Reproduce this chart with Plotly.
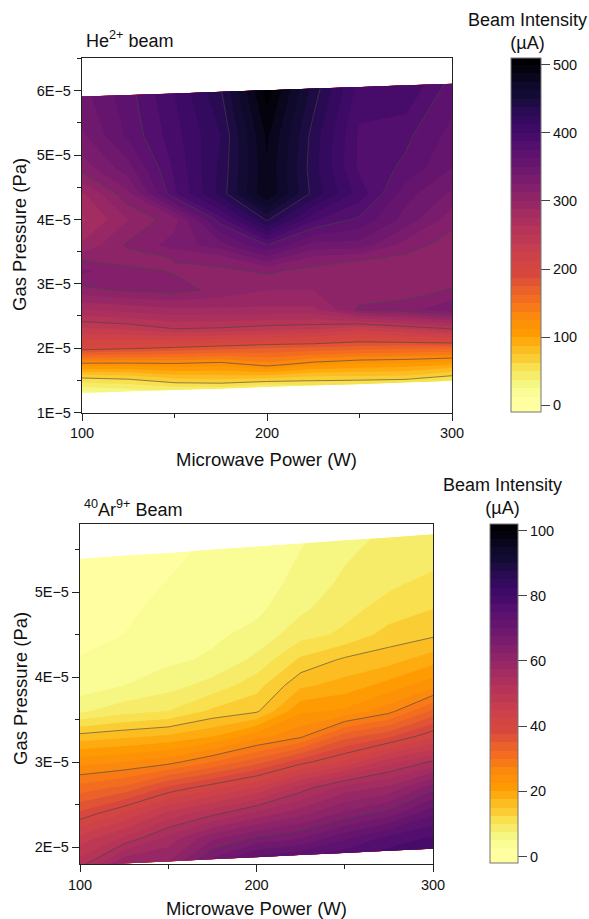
import numpy as np
import plotly.graph_objects as go

POWER = [100, 125, 150, 175, 200, 225, 250, 275, 300]

# He2+ : gas pressure (units of 1E-5 Pa) per power column, bottom to top
HE_PRESSURE = [
    [1.30, 1.55, 1.75, 2.0, 2.3, 2.6, 2.9, 3.2, 3.4, 3.6, 4.0, 4.4, 4.8, 5.3, 5.91],
    [1.325, 1.55, 1.75, 2.0, 2.3, 2.6, 2.9, 3.2, 3.4, 3.6, 4.0, 4.4, 4.8, 5.3, 5.935],
    [1.35, 1.55, 1.75, 2.0, 2.3, 2.6, 2.9, 3.2, 3.4, 3.6, 4.0, 4.4, 4.8, 5.3, 5.96],
    [1.37, 1.55, 1.75, 2.0, 2.3, 2.6, 2.9, 3.2, 3.4, 3.6, 4.0, 4.4, 4.8, 5.3, 5.985],
    [1.395, 1.55, 1.75, 2.0, 2.3, 2.6, 2.9, 3.2, 3.4, 3.6, 4.0, 4.4, 4.8, 5.3, 6.01],
    [1.42, 1.55, 1.75, 2.0, 2.3, 2.6, 2.9, 3.2, 3.4, 3.6, 4.0, 4.4, 4.8, 5.3, 6.035],
    [1.44, 1.55, 1.75, 2.0, 2.3, 2.6, 2.9, 3.2, 3.4, 3.6, 4.0, 4.4, 4.8, 5.3, 6.06],
    [1.465, 1.55, 1.75, 2.0, 2.3, 2.6, 2.9, 3.2, 3.4, 3.6, 4.0, 4.4, 4.8, 5.3, 6.085],
    [1.49, 1.55, 1.75, 2.0, 2.3, 2.6, 2.9, 3.2, 3.4, 3.6, 4.0, 4.4, 4.8, 5.3, 6.11],
]
HE_INTENSITY = [
    [20, 65, 120, 195, 235, 275, 308, 328, 309, 290, 272, 285, 318, 335, 345],
    [30, 68, 120, 190, 240, 280, 314, 316, 306, 315, 300, 322, 345, 365, 370],
    [40, 80, 122, 185, 250, 285, 317, 311.5, 313, 330, 320, 385, 390, 395, 400],
    [45, 82, 118, 180, 248, 285, 309, 309, 320, 345, 382, 430, 428, 425, 436],
    [40, 80, 132, 175, 243, 285, 300, 315, 345, 375, 440, 487, 486, 490, 506],
    [50, 72, 118, 172, 240, 285, 300, 307, 322, 345, 390, 433, 430, 432, 445],
    [50, 72, 110, 168, 228, 315, 305, 302, 315, 345, 372, 395, 385, 385, 395],
    [52, 70, 108, 165, 240, 320, 305, 302, 309, 320, 345, 355, 372, 378, 400],
    [48, 58, 100, 165, 250, 335, 314, 300, 302, 305, 318, 335, 350, 358, 370],
]

# 40Ar9+ : gas pressure (units of 1E-5 Pa) per power column, bottom to top
AR_PRESSURE = [
    [1.78, 2.1, 2.4, 2.7, 3.0, 3.3, 3.6, 3.9, 4.2, 4.5, 4.8, 5.1, 5.39],
    [1.805, 2.1, 2.4, 2.7, 3.0, 3.3, 3.6, 3.9, 4.2, 4.5, 4.8, 5.1, 5.43],
    [1.83, 2.1, 2.4, 2.7, 3.0, 3.3, 3.6, 3.9, 4.2, 4.5, 4.8, 5.1, 5.46],
    [1.855, 2.1, 2.4, 2.7, 3.0, 3.3, 3.6, 3.9, 4.2, 4.5, 4.8, 5.1, 5.50],
    [1.88, 2.1, 2.4, 2.7, 3.0, 3.3, 3.6, 3.9, 4.2, 4.5, 4.8, 5.1, 5.535],
    [1.905, 2.1, 2.4, 2.7, 3.0, 3.3, 3.6, 3.9, 4.2, 4.5, 4.8, 5.1, 5.57],
    [1.93, 2.1, 2.4, 2.7, 3.0, 3.3, 3.6, 3.9, 4.2, 4.5, 4.8, 5.1, 5.61],
    [1.955, 2.1, 2.4, 2.7, 3.0, 3.3, 3.6, 3.9, 4.2, 4.5, 4.8, 5.1, 5.64],
    [1.98, 2.1, 2.4, 2.7, 3.0, 3.3, 3.6, 3.9, 4.2, 4.5, 4.8, 5.1, 5.68],
]
AR_INTENSITY = [
    [52, 46, 38, 31, 24, 16, 7, 3.6, 2.6, 2.0, 1.6, 1.2, 1.0],
    [60, 50.5, 42.5, 33, 25, 17, 9, 5, 3.6, 2.5, 2.1, 1.7, 1.4],
    [60, 56, 48, 38, 26.5, 18, 10, 6.5, 4.5, 3.8, 3.1, 2.6, 2.0],
    [68, 62, 51.5, 41.5, 30, 20, 13, 8.5, 5.4, 4.5, 3.9, 3.4, 2.9],
    [73, 65.5, 55.5, 45, 34, 24, 14.5, 11.5, 8.2, 5.8, 4.4, 3.5, 2.8],
    [74, 67.5, 59, 51, 39, 27, 22, 17, 13, 9, 7, 6, 4.8],
    [76, 72, 63, 56, 43, 34, 23, 18.5, 15.5, 10.5, 9.2, 8, 6.8],
    [78, 76, 66, 58, 49, 37, 26.5, 21, 16.5, 13.5, 11, 9.5, 8],
    [80, 78, 72, 64, 53, 42, 33, 24, 19, 14.5, 12.5, 10.8, 7.7],
]

HE_TICKS = [1e-5, 2e-5, 3e-5, 4e-5, 5e-5, 6e-5]
HE_TICKTEXT = ["1E\u22125", "2E\u22125", "3E\u22125", "4E\u22125", "5E\u22125", "6E\u22125"]
HE_MINOR = [1.5e-5, 2.5e-5, 3.5e-5, 4.5e-5, 5.5e-5, 6.5e-5]
AR_TICKS = [2e-5, 3e-5, 4e-5, 5e-5]
AR_TICKTEXT = ["2E\u22125", "3E\u22125", "4E\u22125", "5E\u22125"]
AR_MINOR = [2.5e-5, 3.5e-5, 4.5e-5, 5.5e-5]
POWER_TICKS = [100, 200, 300]
POWER_MINOR = [150, 250]
HE_BAR_TICKS = [0, 100, 200, 300, 400, 500]
AR_BAR_TICKS = [0, 20, 40, 60, 80, 100]

W, H = 589, 919
FONT = "Liberation Sans"
LINE = "rgba(70,70,70,0.7)"
SCALE = [
    [0.0, "#fffea0"], [0.024, "#fffea0"], [0.049, "#f5fb8d"], [0.073, "#f6f27a"],
    [0.098, "#f7e85e"], [0.122, "#f8db45"], [0.146, "#fbc62b"], [0.17, "#fdb91f"],
    [0.205, "#ff9d00"], [0.26, "#fb8a0c"], [0.305, "#f5701d"], [0.345, "#e85d2c"], [0.38, "#d8483c"],
    [0.43, "#cf4446"], [0.49, "#bc3754"], [0.55, "#a82e5f"], [0.60, "#932667"],
    [0.65, "#7f1e6c"], [0.70, "#6a176e"], [0.75, "#57106e"], [0.80, "#420a68"],
    [0.85, "#2f0a5b"], [0.90, "#170c3a"], [0.95, "#0c0826"], [1.0, "#000004"],
]


def px(v):
    return v / W


def py(v):
    return 1 - v / H


def add_panel(fig, pressure, intensity, cid, xa, ya, zmin, zmax, size, start, line_start, line_end, line_size, bar):
    x2d = [[p] * len(pressure[0]) for p in POWER]
    xgrid = np.array(x2d).T.tolist()
    ygrid = (np.array(pressure).T * 1e-5).tolist()
    z = np.array(intensity).T.tolist()
    b = list(range(len(ygrid)))
    hidden = dict(showgrid=False, showline=False, showticklabels="none",
                  startline=False, endline=False, minorgridcount=0, smoothing=0)
    fig.add_trace(go.Carpet(a=POWER, b=b, x=xgrid, y=ygrid, carpet=cid, xaxis=xa, yaxis=ya,
                            aaxis=hidden, baxis=hidden))
    fig.add_trace(go.Contourcarpet(a=POWER, b=b, z=z, carpet=cid, xaxis=xa, yaxis=ya,
                                   colorscale=SCALE, zmin=zmin, zmax=zmax, autocontour=False,
                                   contours=dict(start=start, end=zmax, size=size, coloring="fill"),
                                   line=dict(width=0, smoothing=0), colorbar=bar))
    fig.add_trace(go.Contourcarpet(a=POWER, b=b, z=z, carpet=cid, xaxis=xa, yaxis=ya,
                                   showscale=False, autocontour=False,
                                   contours=dict(start=line_start, end=line_end, size=line_size, coloring="none"),
                                   line=dict(width=0.9, color=LINE, smoothing=0)))


def bar(left, top, bottom, width, ticks):
    return dict(x=px(left), xanchor="left", y=py(bottom), yanchor="bottom",
                thickness=width, thicknessmode="pixels",
                len=bottom - top, lenmode="pixels",
                ticks="outside", ticklen=9, tickwidth=1, tickcolor="#444",
                tickvals=ticks, tickfont=dict(family=FONT, size=14.5, color="#111"),
                outlinewidth=1, outlinecolor="#777", xpad=0, ypad=0, borderwidth=0)


fig = go.Figure()
add_panel(fig, HE_PRESSURE, HE_INTENSITY, "he", "x", "y", -10, 510, 12.5, 0, 62.5, 440, 62.5,
          bar(511, 58, 412, 30, HE_BAR_TICKS))
add_panel(fig, AR_PRESSURE, AR_INTENSITY, "ar", "x2", "y2", -2, 102, 2.5, 0, 15, 70, 12.5,
          bar(490, 524, 863, 28, AR_BAR_TICKS))


def xaxis(left, right, anchor):
    return dict(domain=[px(left), px(right)], range=[100, 300], anchor=anchor, automargin=False,
                tickvals=POWER_TICKS, ticks="outside", ticklen=7, tickwidth=1, tickcolor="#222",
                minor=dict(tickvals=POWER_MINOR, ticks="outside", ticklen=4, tickcolor="#222"),
                showgrid=False, zeroline=False, showline=True, linecolor="#222", linewidth=1.3, mirror=True,
                tickfont=dict(family=FONT, size=14.5, color="#111"))


def yaxis(top, bottom, rng, ticks, text, minor, anchor):
    return dict(domain=[py(bottom), py(top)], range=rng, anchor=anchor, automargin=False,
                tickmode="array", tickvals=ticks, ticktext=text, ticks="outside", ticklen=7, tickwidth=1, tickcolor="#222",
                minor=dict(tickvals=minor, ticks="outside", ticklen=4, tickcolor="#222"),
                showgrid=False, zeroline=False, showline=True, linecolor="#222", linewidth=1.3, mirror=True,
                tickfont=dict(family=FONT, size=14.5, color="#111"))


def note(x, y, text, anchor="center", size=18, angle=0):
    return dict(x=px(x), y=py(y), xref="paper", yref="paper", text=text, showarrow=False,
                xanchor=anchor, yanchor="middle", align="center", textangle=angle,
                font=dict(family=FONT, size=size, color="#111"))


fig.update_layout(
    width=W, height=H, autosize=False, margin=dict(l=0, r=0, t=0, b=0),
    paper_bgcolor="white", plot_bgcolor="white", showlegend=False,
    xaxis=xaxis(82, 452, "y"),
    yaxis=yaxis(58, 412.5, [1e-5, 6.51e-5], HE_TICKS, HE_TICKTEXT, HE_MINOR, "x"),
    xaxis2=xaxis(80, 433, "y2"),
    yaxis2=yaxis(524, 864, [1.8e-5, 5.8e-5], AR_TICKS, AR_TICKTEXT, AR_MINOR, "x2"),
    annotations=[
        note(84, 40, "He<sup>2+</sup> beam", "left", 18),
        note(82, 508, "<sup>40</sup>Ar<sup>9+</sup> Beam", "left", 18),
        note(527, 31, "Beam Intensity<br>(\u00b5A)"),
        note(502, 497, "Beam Intensity<br>(\u00b5A)"),
        note(266, 459, "Microwave Power (W)", size=18.5),
        note(256, 908, "Microwave Power (W)", size=18.5),
        note(20, 235, "Gas Pressure (Pa)", size=18.5, angle=-90),
        note(20, 689, "Gas Pressure (Pa)", size=18.5, angle=-90),
    ],
)

fig.write_html("out.html", config={"displayModeBar": False},
               post_script="document.body.style.margin='0';")
